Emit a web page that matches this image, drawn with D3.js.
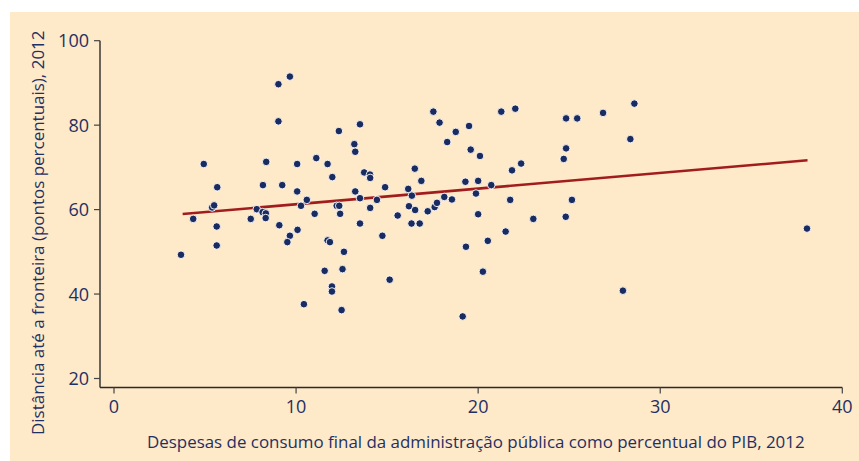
<!DOCTYPE html>
<html>
<head>
<meta charset="utf-8">
<script src="https://cdn.jsdelivr.net/npm/d3@7"></script>
<style>
  body { margin: 0; background: #fff; }
  text { font-family: "Open Sans", sans-serif; fill: #1f3064; }
</style>
</head>
<body>
<div id="chart"></div>
<script>
// Despesas de consumo final (% PIB) vs distância até a fronteira, 2012
const spending = [
  3.68, 4.35, 4.93, 5.39, 5.50, 5.67, 5.64, 5.64, 7.51, 7.84,
  8.16, 8.34, 8.33, 8.18, 8.36, 9.03, 9.66, 9.03, 9.24, 9.08,
  9.66, 9.52, 10.08, 10.06, 10.06, 10.27, 10.59, 11.02, 11.11, 11.73,
  11.99, 12.23, 12.37, 12.42, 11.73, 11.86, 12.63, 10.43, 11.57, 12.55,
  11.97, 11.97, 12.50, 12.35, 13.51, 13.20, 13.25, 13.74, 14.06, 14.07,
  13.25, 13.51, 14.44, 14.89, 14.07, 13.51, 15.58, 14.74, 15.14, 16.52,
  16.88, 16.16, 16.36, 16.20, 16.54, 16.34, 16.79, 17.23, 17.61, 17.74,
  18.14, 18.56, 17.54, 17.88, 18.30, 18.77, 19.50, 19.59, 20.10, 19.30,
  20.00, 20.72, 19.88, 20.00, 19.33, 20.53, 20.26, 19.15, 21.27, 22.04,
  21.86, 22.36, 21.76, 21.51, 23.03, 24.83, 25.44, 24.83, 24.70, 25.15,
  24.81, 26.86, 28.58, 28.36, 38.06, 27.95
]
const distance = [
  49.3, 57.8, 70.8, 60.5, 61.0, 65.3, 56.0, 51.5, 57.8, 60.1,
  59.4, 59.1, 58.0, 65.8, 71.3, 89.7, 91.5, 80.9, 65.8, 56.3,
  53.8, 52.3, 55.2, 70.8, 64.3, 60.9, 62.3, 59.0, 72.2, 70.8,
  67.7, 60.9, 60.9, 59.0, 52.7, 52.3, 50.0, 37.6, 45.5, 45.9,
  41.8, 40.6, 36.2, 78.6, 80.2, 75.5, 73.7, 68.8, 68.3, 67.5,
  64.3, 62.7, 62.3, 65.3, 60.4, 56.7, 58.6, 53.8, 43.4, 69.7,
  66.8, 64.9, 63.3, 60.8, 59.9, 56.7, 56.7, 59.6, 60.6, 61.6,
  63.0, 62.4, 83.2, 80.6, 76.0, 78.4, 79.8, 74.2, 72.7, 66.6,
  66.8, 65.8, 63.8, 58.9, 51.2, 52.6, 45.3, 34.7, 83.2, 83.9,
  69.3, 70.9, 62.3, 54.8, 57.8, 81.6, 81.6, 74.5, 72.0, 62.3,
  58.3, 82.9, 85.1, 76.7, 55.5, 40.8
]
// linha de tendência (extremos)
const trendX = [3.77, 38.09]
const trendY = [58.96, 71.68]

const xTicks = [0, 10, 20, 30, 40]
const yTicks = [20, 40, 60, 80, 100]
const xTitle = 'Despesas de consumo final da administração pública como percentual do PIB, 2012'
const yTitle = 'Distância até a fronteira (pontos percentuais), 2012'

const width = 859, height = 461

const svg = d3.select('#chart').append('svg')
    .attr('width', width).attr('height', height)

svg.append('rect')
    .attr('x', 10).attr('y', 12)
    .attr('width', width - 10).attr('height', height - 12)
    .attr('fill', '#fee9c8')

const x = d3.scaleLinear().domain([0, 40]).range([114, 842.3])
const y = d3.scaleLinear().domain([20, 100]).range([378.5, 40.7])

const axisLeft = 100, axisBottom = 387.5

// axes
svg.append('line')
    .attr('x1', axisLeft).attr('x2', axisLeft)
    .attr('y1', y(100)).attr('y2', axisBottom)
    .attr('stroke', '#2b2b2b').attr('stroke-width', 1.4)
svg.append('line')
    .attr('x1', axisLeft).attr('x2', x(40))
    .attr('y1', axisBottom).attr('y2', axisBottom)
    .attr('stroke', '#2b2b2b').attr('stroke-width', 1.4)

const gx = svg.append('g')
gx.selectAll('line').data(xTicks).join('line')
    .attr('x1', d => x(d)).attr('x2', d => x(d))
    .attr('y1', axisBottom).attr('y2', axisBottom + 6)
    .attr('stroke', '#444').attr('stroke-width', 1.2)
gx.selectAll('text').data(xTicks).join('text')
    .attr('x', d => x(d)).attr('y', 412.5)
    .attr('text-anchor', 'middle')
    .attr('font-size', 18)
    .text(d => d)

const gy = svg.append('g')
gy.selectAll('line').data(yTicks).join('line')
    .attr('x1', axisLeft - 6).attr('x2', axisLeft)
    .attr('y1', d => y(d)).attr('y2', d => y(d))
    .attr('stroke', '#444').attr('stroke-width', 1.2)
gy.selectAll('text').data(yTicks).join('text')
    .attr('x', 89).attr('y', d => y(d))
    .attr('dy', '0.36em')
    .attr('text-anchor', 'end')
    .attr('font-size', 18)
    .text(d => d)

// titles: font size chosen so the natural width matches the reference
function fitText( sel, target ) {
    sel.attr('font-size', 18)
    const len = sel.node().getComputedTextLength()
    sel.attr('font-size', 18 * target / len)
}

svg.append('text')
    .attr('x', 147).attr('y', 448)
    .text(xTitle)
    .call(fitText, 658)
svg.append('text')
    .attr('transform', 'translate(44,435) rotate(-90)')
    .text(yTitle)
    .call(fitText, 405)

// trend line
svg.append('line')
    .attr('x1', x(trendX[0])).attr('y1', y(trendY[0]))
    .attr('x2', x(trendX[1])).attr('y2', y(trendY[1]))
    .attr('stroke', '#a11d1d').attr('stroke-width', 2.6)

// points
svg.append('g').selectAll('circle').data(d3.range(spending.length)).join('circle')
    .attr('cx', i => x(spending[i]))
    .attr('cy', i => y(distance[i]))
    .attr('r', 3.8)
    .attr('fill', '#1a2b5f')
    .attr('stroke', '#fff').attr('stroke-width', 0.9)
</script>
</body>
</html>
